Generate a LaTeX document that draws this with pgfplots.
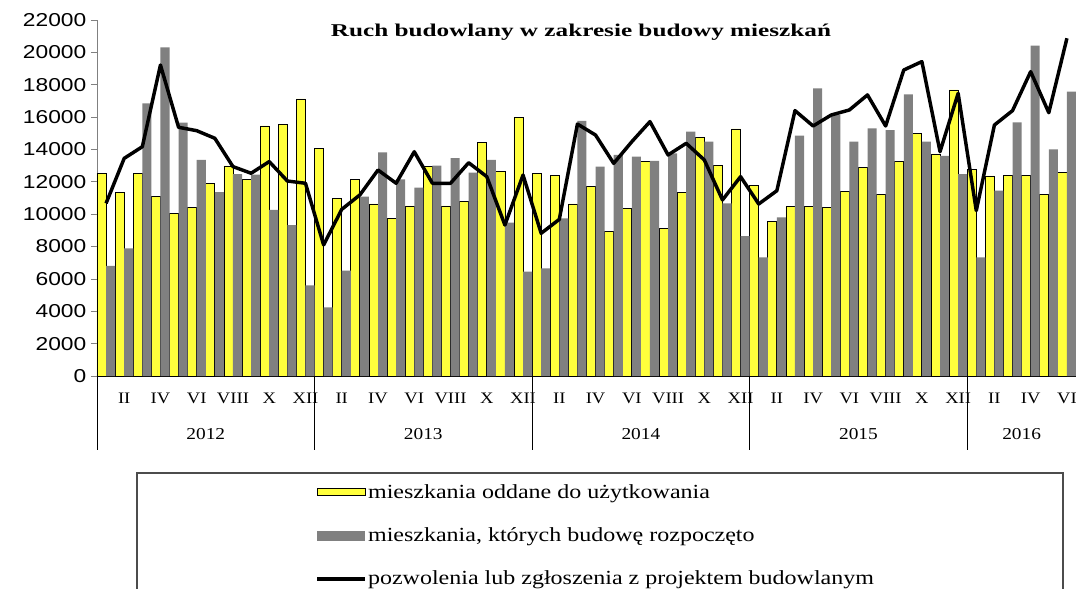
\documentclass[border=0pt]{standalone}
\usepackage{fontspec}
\setmainfont{Liberation Serif}
\newfontfamily\tickfont[FakeStretch=1.22]{Liberation Sans}
\newfontfamily\monthfont[FakeStretch=1.16]{Liberation Serif}
\newfontfamily\legfont[FakeStretch=1.2]{Liberation Serif}
\newfontfamily\titfont[FakeStretch=1.4]{Liberation Serif}
\usepackage{pgfplots}
\usepackage{pgfplotstable}
\pgfplotsset{compat=1.18}
\definecolor{ycol}{RGB}{255,255,60}
\definecolor{gcol}{RGB}{128,128,128}

\pgfplotstableread{
x comp start perm
0 12530 6800 10670
1 11330 7890 13450
2 12530 16850 14170
3 11120 20310 19220
4 10050 15660 15370
5 10420 13350 15160
6 11910 11370 14690
7 12980 12480 12940
8 12150 12450 12530
9 15450 10260 13250
10 15570 9330 12050
11 17120 5600 11910
12 14070 4240 8100
13 10980 6510 10300
14 12150 11080 11190
15 10630 13820 12730
16 9740 12150 11910
17 10510 11640 13860
18 12940 13000 11910
19 10510 13470 11910
20 10770 12570 13180
21 14420 13350 12320
22 12630 9480 9330
23 15990 6450 12420
24 12530 6650 8820
25 12420 9740 9680
26 10630 15760 15570
27 11700 12940 14890
28 8960 13660 13140
29 10340 13560 14480
30 13250 13290 15720
31 9130 13760 13660
32 11350 15100 14380
33 14750 14480 13350
34 13000 10670 10880
35 15270 8650 12320
36 11800 7330 10630
37 9540 9810 11450
38 10470 14850 16400
39 10470 17780 15450
40 10420 16130 16130
41 11430 14480 16440
42 12900 15310 17370
43 11230 15200 15450
44 13270 17410 18910
45 15000 14480 19430
46 13720 13600 13860
47 17680 12480 17470
48 12770 7330 10220
49 12360 11450 15510
50 12420 15680 16400
51 12420 20410 18810
52 11230 14010 16270
53 12570 17570 20870
}\data

\begin{document}
\begin{tikzpicture}
\clip (-72.75pt,-159.75pt) rectangle (734.25pt,282pt);
\begin{axis}[
  at={(0,0)}, anchor=south west,
  scale only axis, width=734.25pt, height=267pt,
  xmin=-0.5, xmax=53.5, ymin=0, ymax=22000,
  axis x line*=bottom, axis y line*=left,
  x axis line style={black, -, line width=0.8pt},
  y axis line style={gray, -, line width=0.6pt},
  ytick={0,2000,...,22000},
  scaled y ticks=false,
  ytick style={gray, line width=0.6pt},
  tick align=outside, major tick length=4.5pt,
  xtick={1,3,...,53},
  xticklabels={II,IV,VI,VIII,X,XII,II,IV,VI,VIII,X,XII,II,IV,VI,VIII,X,XII,II,IV,VI,VIII,X,XII,II,IV,VI},
  xtick style={draw=none},
  xticklabel style={font=\monthfont\fontsize{12}{12}\selectfont, anchor=center, yshift=-12pt},
  yticklabel style={font=\tickfont\fontsize{14}{14}\selectfont, anchor=east},
  /pgf/number format/assume math mode=true,
  /pgf/number format/1000 sep={},
  clip=false,
  title={Ruch budowlany w zakresie budowy mieszkań},
  title style={at={(0.4944,0.944)}, anchor=center, font=\titfont\bfseries\fontsize{13.5}{13.5}\selectfont},
  legend style={draw=none, fill=none, at={(0.2227,-0.30)}, anchor=north west,
    font=\legfont\fontsize{15}{15}\selectfont, row sep=18.5pt, column sep=0pt,
    inner sep=0pt, nodes={inner sep=1pt}},
  legend cell align=left,
]
\addplot[ybar, bar width=0.5, bar shift=-0.25, fill=ycol, draw=black, line width=0.6pt,
  legend image code/.code={\draw[fill=ycol,draw=black,line width=0.6pt] (0pt,-2.6pt) rectangle (36pt,2.6pt);}]
  table[x=x,y=comp]{\data};
\addlegendentry{mieszkania oddane do użytkowania}
\addplot[ybar, bar width=0.5, bar shift=0.25, fill=gcol, draw=none,
  legend image code/.code={\fill[gcol] (0pt,-3.75pt) rectangle (36pt,3.75pt);}]
  table[x=x,y=start]{\data};
\addlegendentry{mieszkania, których budowę rozpoczęto}
\addplot[black, line width=2.6pt, line join=round, mark=none,
  legend image code/.code={\draw[black,line width=2.6pt] (0pt,0pt) -- (36pt,0pt);}]
  table[x=x,y=perm]{\data};
\addlegendentry{pozwolenia lub zgłoszenia z projektem budowlanym}
\foreach \s in {-0.5,11.5,23.5,35.5,47.5}{
  \edef\tmp{\noexpand\draw[black, line width=0.7pt] (axis cs:\s,0) -- ++(0pt,-55.5pt);}\tmp
}
\node[font=\monthfont\fontsize{12.5}{12.5}\selectfont] at (axis cs:5.5,0) [yshift=-43.5pt] {2012};
\node[font=\monthfont\fontsize{12.5}{12.5}\selectfont] at (axis cs:17.5,0) [yshift=-43.5pt] {2013};
\node[font=\monthfont\fontsize{12.5}{12.5}\selectfont] at (axis cs:29.5,0) [yshift=-43.5pt] {2014};
\node[font=\monthfont\fontsize{12.5}{12.5}\selectfont] at (axis cs:41.5,0) [yshift=-43.5pt] {2015};
\node[font=\monthfont\fontsize{12.5}{12.5}\selectfont] at (axis cs:50.5,0) [yshift=-43.5pt] {2016};
\end{axis}
\draw[gray!60!black, line width=0.8pt] (30pt,-200pt) rectangle (724.5pt,-72.75pt);
\end{tikzpicture}
\end{document}
